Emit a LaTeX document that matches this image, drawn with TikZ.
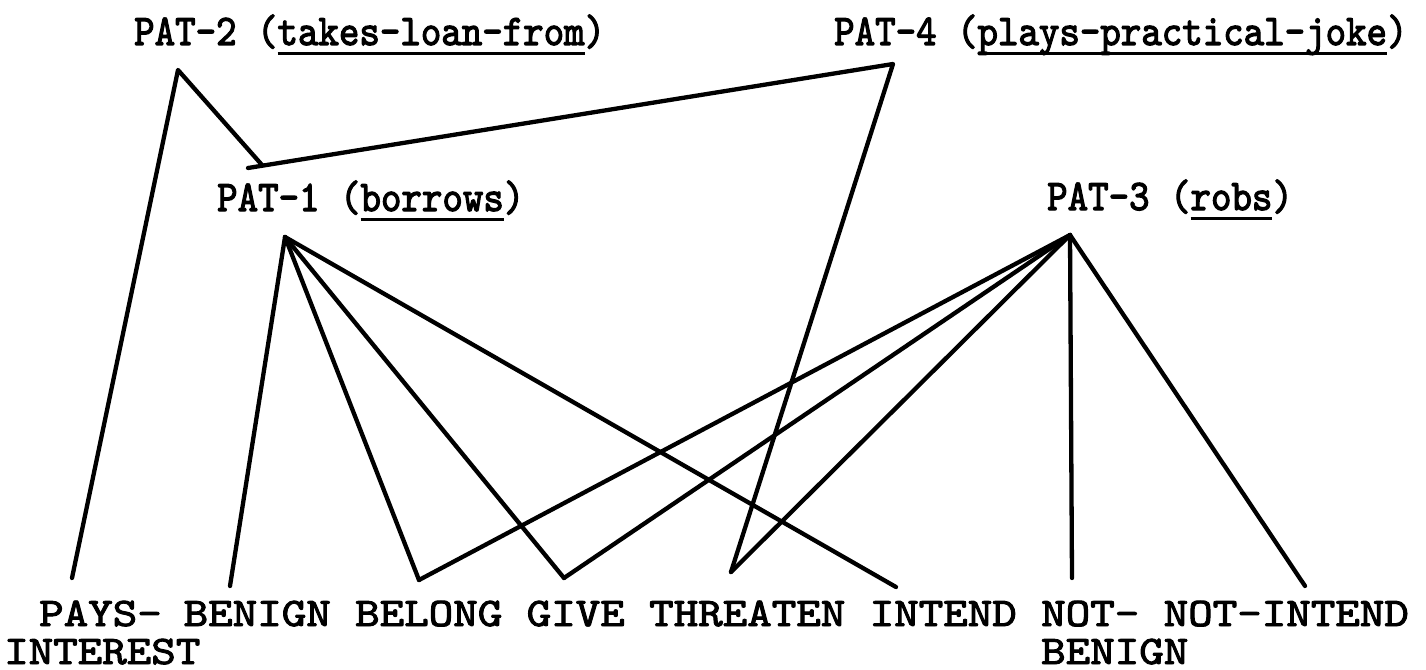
\documentclass[tikz,border=0pt]{standalone}
\usepackage{fontspec}
\usepackage{graphicx}
% typewriter faces: heavier strike for the pattern names, lighter for the leaves
\newfontfamily\typehead[FakeBold=2.8]{lmmono10-regular.otf}
\newfontfamily\typebody[FakeBold=2.2]{lmmono10-regular.otf}
% typewriter-style underscore at a fixed depth below the baseline
\newcommand\tul[1]{\setbox0=\hbox{#1}\rlap{\rule[-9pt]{\wd0}{2.8pt}}\box0}
\newcommand\headtext[1]{\scalebox{1}[1.12]{\typehead\fontsize{39}{39}\selectfont #1}}
\newcommand\leaftext[1]{\scalebox{1}[0.87]{\typebody\fontsize{46.7}{46.7}\selectfont #1}}

\tikzset{
  head/.style={anchor=base west, inner sep=0pt},
  leaf/.style={anchor=base west, inner sep=0pt},
  link/.style={line width=4.3pt, line cap=round, line join=round},
}

\begin{document}
\begin{tikzpicture}[x=1pt, y=-1pt]
  \useasboundingbox (0,0) rectangle (1426,669);
  \fill[white] (0,0) rectangle (1426,669);

  % pattern labels
  \node[head] (p2t) at (134,45)  {\headtext{PAT-2 (\tul{takes-loan-from})}};
  \node[head] (p4t) at (834,45)  {\headtext{PAT-4 (\tul{plays-practical-joke})}};
  \node[head] (p1t) at (217,211) {\headtext{PAT-1 (\tul{borrows})}};
  \node[head] (p3t) at (1047,210){\headtext{PAT-3 (\tul{robs})}};

  % leaf features, on a 24.5 pitch grid
  \node[leaf] (pays)     at (39,626)    {\leaftext{PAYS-}};
  \node[leaf] (interest) at (4,664)     {\leaftext{INTEREST}};
  \node[leaf] (benign)   at (183.5,626) {\leaftext{BENIGN}};
  \node[leaf] (belong)   at (355,626)   {\leaftext{BELONG}};
  \node[leaf] (give)     at (526.5,626) {\leaftext{GIVE}};
  \node[leaf] (threaten) at (649,626)   {\leaftext{THREATEN}};
  \node[leaf] (intend)   at (869.5,626) {\leaftext{INTEND}};
  \node[leaf] (notb)     at (1041,626)  {\leaftext{NOT-}};
  \node[leaf] (notb2)    at (1041,664)  {\leaftext{BENIGN}};
  \node[leaf] (notint)   at (1163.5,626){\leaftext{NOT-INTEND}};

  % apexes under the pattern labels
  \coordinate (a2) at (178,70);
  \coordinate (a4) at (893,64);
  \coordinate (a1) at (285,237);
  \coordinate (a3) at (1070,235);
  \coordinate (j)  at (262,165);
  \coordinate (js) at (248,168);

  % line ends above the leaves
  \coordinate (e-pays)     at (72,578);
  \coordinate (e-benign)   at (230,586);
  \coordinate (e-belong)   at (419,580);
  \coordinate (e-give)     at (564,578);
  \coordinate (e-threaten) at (731,572);
  \coordinate (e-intend)   at (896,587);
  \coordinate (e-notb)     at (1072,578);
  \coordinate (e-notint)   at (1305,586);

  % PAT-2 and PAT-4 links
  \draw[link] (e-pays) -- (a2) -- (j);
  \draw[link] (js) -- (a4) -- (e-threaten);

  % PAT-1 links
  \draw[link] (a1) -- (e-benign);
  \draw[link] (a1) -- (e-belong);
  \draw[link] (a1) -- (e-give);
  \draw[link] (a1) -- (e-intend);

  % PAT-3 links
  \draw[link] (a3) -- (e-belong);
  \draw[link] (a3) -- (e-give);
  \draw[link] (a3) -- (e-threaten);
  \draw[link] (a3) -- (e-notb);
  \draw[link] (a3) -- (e-notint);
\end{tikzpicture}
\end{document}
